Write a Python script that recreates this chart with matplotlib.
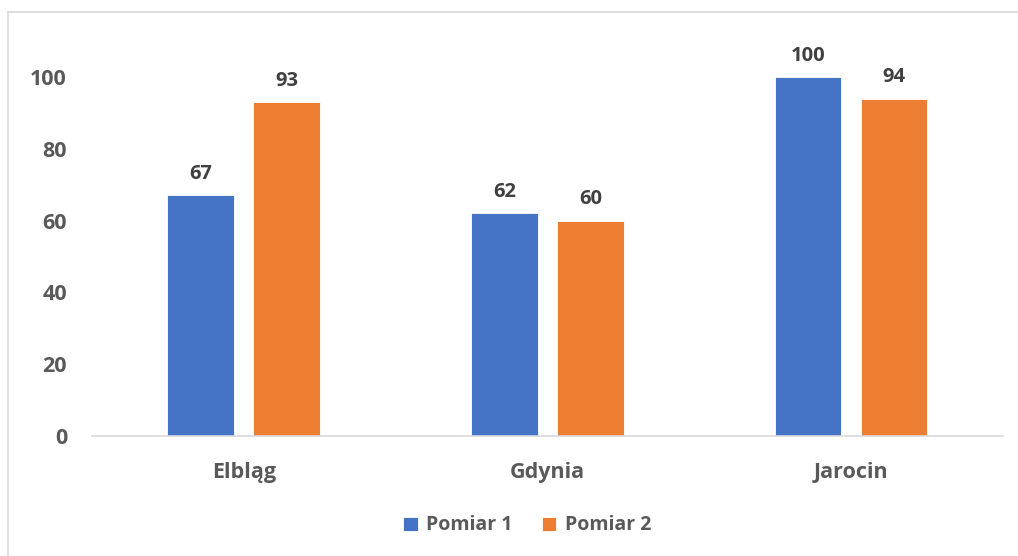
import numpy as np
import matplotlib.pyplot as plt
from matplotlib.lines import Line2D

# Values for each town and measurement
towns = ["Elbląg", "Gdynia", "Jarocin"]
pomiar_1 = [67, 62, 100]
pomiar_2 = [93, 60, 94]
series_names = ["Pomiar 1", "Pomiar 2"]

blue = "#4472C4"
orange = "#ED7D31"
grey = "#595959"

plt.rcParams["font.family"] = ["Open Sans", "DejaVu Sans"]
plt.rcParams["font.weight"] = "bold"

fig = plt.figure(figsize=(10.18, 5.56), dpi=100)
ax = fig.add_axes([0.0904, 0.2158, 0.8946, 0.6457])

x = np.arange(len(towns))
width = 0.22
offset = 0.1415

b1 = ax.bar(x - offset, pomiar_1, width, color=blue, edgecolor="white", linewidth=0.6, label=series_names[0])
b2 = ax.bar(x + offset, pomiar_2, width, color=orange, edgecolor="white", linewidth=0.6, label=series_names[1])

for bars in (b1, b2):
    ax.bar_label(bars, padding=8, fontsize=14.5, fontweight="bold", color="#404040", clip_on=False)

ax.set_xlim(-0.5, 2.5)
ax.set_ylim(0, 100)
ax.set_yticks(range(0, 101, 20))
ax.set_xticks(x)
ax.set_xticklabels(towns)

for s in ("top", "right", "left"):
    ax.spines[s].set_visible(False)
ax.spines["bottom"].set_color("#D9D9D9")
ax.spines["bottom"].set_linewidth(1.2)
ax.tick_params(axis="both", length=0, labelsize=15.5, labelcolor=grey)
ax.tick_params(axis="y", pad=18)
ax.tick_params(axis="x", pad=19)
for lbl in ax.get_xticklabels() + ax.get_yticklabels():
    lbl.set_fontweight("bold")

fig.legend(handles=[b1, b2], loc="center", bbox_to_anchor=(0.518, 0.055), ncol=2,
           frameon=False, handlelength=0.75, handleheight=0.75,
           handletextpad=0.45, columnspacing=1.5, labelcolor=grey,
           prop={"weight": "bold", "size": 14})

# chart area border
fig.add_artist(Line2D([8 / 1018, 1.0], [1 - 11.5 / 556] * 2, color="#D9D9D9", lw=1.2))
fig.add_artist(Line2D([8 / 1018] * 2, [0.0, 1 - 11.5 / 556], color="#D9D9D9", lw=1.2))

fig.savefig("out.png", dpi=100)
